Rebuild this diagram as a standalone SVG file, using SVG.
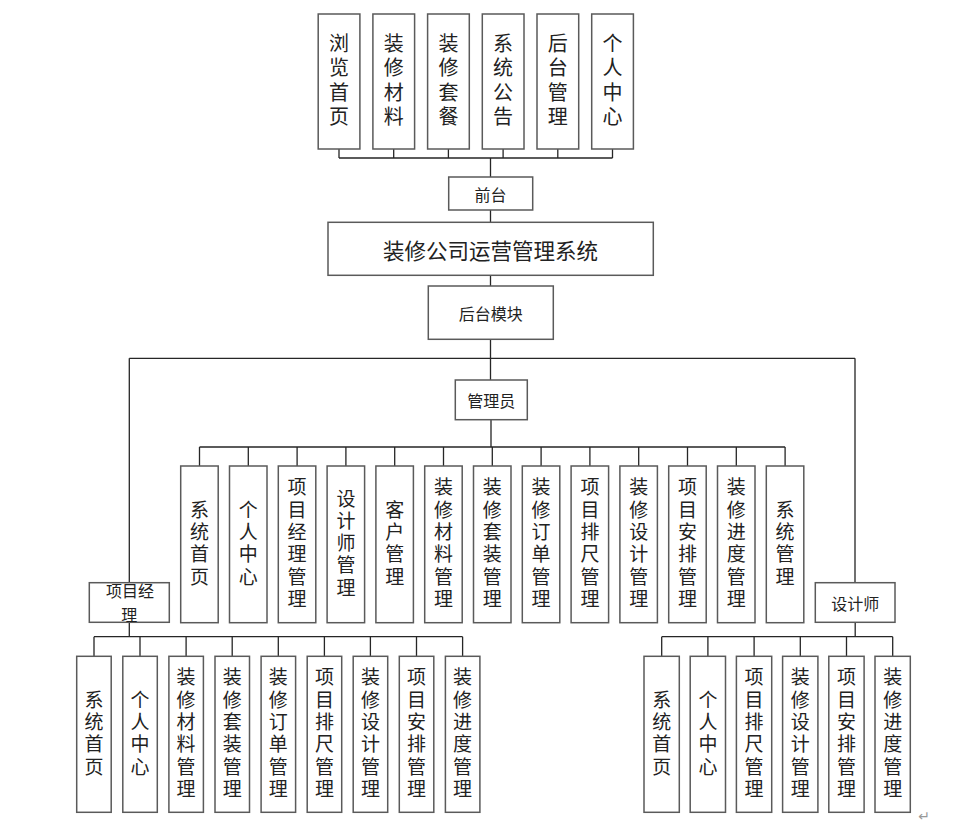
<svg xmlns="http://www.w3.org/2000/svg" width="977" height="824" viewBox="0 0 977 824">
<style>
.b{fill:#fff;stroke:#5a5a5a;stroke-width:1.5}
.c{fill:none;stroke:#262626;stroke-width:1.3}
text{font-family:"Noto Sans CJK SC","Noto Sans",sans-serif;fill:#222;text-anchor:middle;dominant-baseline:central}
.v{font-size:19px;writing-mode:vertical-rl;letter-spacing:3.3px}
.t{font-size:20px;writing-mode:vertical-rl;letter-spacing:4.5px}
.h{font-size:16px}
</style>
<rect width="977" height="824" fill="#fff"/>
<g id="connectors">
<path class="c" d="M339 149V158M393.7 149V158M448.4 149V158M503.1 149V158M557.8 149V158M612.5 149V158M339 158H612.5M490.5 158V177M490.5 210V222.3M490.5 275.3V286M490.5 339.3V380M129.3 358.3H855M129.3 358.3V582.7M855 358.3V582.7"/>
<path class="c" d="M491 420V447M199.5 447H785.1M199.5 447V466M248.3 447V466M297.1 447V466M345.9 447V466M394.7 447V466M443.5 447V466M492.3 447V466M541.1 447V466M589.9 447V466M638.7 447V466M687.5 447V466M736.3 447V466M785.1 447V466"/>
<path class="c" d="M129.3 622.3V636.7M94 636.7H462.6M94 636.7V656.3M140 636.7V656.3M186.1 636.7V656.3M232.2 636.7V656.3M278.3 636.7V656.3M324.4 636.7V656.3M370.4 636.7V656.3M416.5 636.7V656.3M462.6 636.7V656.3"/>
<path class="c" d="M855.2 622.3V636.7M661.7 636.7H892.7M661.7 636.7V656.3M707.9 636.7V656.3M754.1 636.7V656.3M800.3 636.7V656.3M846.5 636.7V656.3M892.7 636.7V656.3"/>
</g>
<g id="top-nodes">
<g id="n-browse"><rect class="b" x="318.2" y="14" width="41.7" height="135"/><text class="t" x="339" y="82">浏览首页</text></g>
<g id="n-material"><rect class="b" x="372.9" y="14" width="41.7" height="135"/><text class="t" x="393.7" y="82">装修材料</text></g>
<g id="n-package"><rect class="b" x="427.6" y="14" width="41.7" height="135"/><text class="t" x="448.4" y="82">装修套餐</text></g>
<g id="n-notice"><rect class="b" x="482.3" y="14" width="41.7" height="135"/><text class="t" x="503.1" y="82">系统公告</text></g>
<g id="n-backend"><rect class="b" x="537" y="14" width="41.7" height="135"/><text class="t" x="557.8" y="82">后台管理</text></g>
<g id="n-personal"><rect class="b" x="591.7" y="14" width="41.7" height="135"/><text class="t" x="612.5" y="82">个人中心</text></g>
</g>
<g id="n-front"><rect class="b" x="448.7" y="177" width="84" height="33"/><text class="h" x="490.5" y="193.5">前台</text></g>
<g id="n-system"><rect class="b" x="328" y="222.3" width="325.3" height="53"/><text x="490.5" y="249" style="font-size:21.5px">装修公司运营管理系统</text></g>
<g id="n-backmod"><rect class="b" x="428.3" y="286" width="125" height="53.3"/><text class="h" x="490.8" y="312.6">后台模块</text></g>
<g id="n-admin"><rect class="b" x="455.3" y="380" width="72" height="39.7"/><text class="h" x="491.3" y="400">管理员</text></g>
<g id="n-pm"><rect class="b" x="89.3" y="582.7" width="80" height="39.6"/><text class="h" x="130" y="590">项目经</text><text class="h" x="129.3" y="613.6">理</text></g>
<g id="n-designer"><rect class="b" x="815.3" y="582.7" width="79.7" height="39.6"/><text class="h" x="855.2" y="602.5">设计师</text></g>
<g id="admin-nodes">
<g id="a1"><rect class="b" x="180.7" y="466" width="37.5" height="156.7"/><text class="v" x="199.5" y="544.6">系统首页</text></g>
<g id="a2"><rect class="b" x="229.5" y="466" width="37.5" height="156.7"/><text class="v" x="248.3" y="544.6">个人中心</text></g>
<g id="a3"><rect class="b" x="278.3" y="466" width="37.5" height="156.7"/><text class="v" x="297.1" y="544.6">项目经理管理</text></g>
<g id="a4"><rect class="b" x="327.1" y="466" width="37.5" height="156.7"/><text class="v" x="345.9" y="544.6">设计师管理</text></g>
<g id="a5"><rect class="b" x="375.9" y="466" width="37.5" height="156.7"/><text class="v" x="394.7" y="544.6">客户管理</text></g>
<g id="a6"><rect class="b" x="424.7" y="466" width="37.5" height="156.7"/><text class="v" x="443.5" y="544.6">装修材料管理</text></g>
<g id="a7"><rect class="b" x="473.5" y="466" width="37.5" height="156.7"/><text class="v" x="492.3" y="544.6">装修套装管理</text></g>
<g id="a8"><rect class="b" x="522.3" y="466" width="37.5" height="156.7"/><text class="v" x="541.1" y="544.6">装修订单管理</text></g>
<g id="a9"><rect class="b" x="571.1" y="466" width="37.5" height="156.7"/><text class="v" x="589.9" y="544.6">项目排尺管理</text></g>
<g id="a10"><rect class="b" x="619.9" y="466" width="37.5" height="156.7"/><text class="v" x="638.7" y="544.6">装修设计管理</text></g>
<g id="a11"><rect class="b" x="668.7" y="466" width="37.5" height="156.7"/><text class="v" x="687.5" y="544.6">项目安排管理</text></g>
<g id="a12"><rect class="b" x="717.5" y="466" width="37.5" height="156.7"/><text class="v" x="736.3" y="544.6">装修进度管理</text></g>
<g id="a13"><rect class="b" x="766.3" y="466" width="37.5" height="156.7"/><text class="v" x="785.1" y="544.6">系统管理</text></g>
</g>
<g id="pm-nodes">
<g id="p1"><rect class="b" x="76.7" y="656.3" width="34.5" height="156"/><text class="v" x="94" y="734.6">系统首页</text></g>
<g id="p2"><rect class="b" x="122.8" y="656.3" width="34.5" height="156"/><text class="v" x="140" y="734.6">个人中心</text></g>
<g id="p3"><rect class="b" x="168.9" y="656.3" width="34.5" height="156"/><text class="v" x="186.1" y="734.6">装修材料管理</text></g>
<g id="p4"><rect class="b" x="215" y="656.3" width="34.5" height="156"/><text class="v" x="232.2" y="734.6">装修套装管理</text></g>
<g id="p5"><rect class="b" x="261.1" y="656.3" width="34.5" height="156"/><text class="v" x="278.3" y="734.6">装修订单管理</text></g>
<g id="p6"><rect class="b" x="307.2" y="656.3" width="34.5" height="156"/><text class="v" x="324.4" y="734.6">项目排尺管理</text></g>
<g id="p7"><rect class="b" x="353.2" y="656.3" width="34.5" height="156"/><text class="v" x="370.4" y="734.6">装修设计管理</text></g>
<g id="p8"><rect class="b" x="399.3" y="656.3" width="34.5" height="156"/><text class="v" x="416.5" y="734.6">项目安排管理</text></g>
<g id="p9"><rect class="b" x="445.4" y="656.3" width="34.5" height="156"/><text class="v" x="462.6" y="734.6">装修进度管理</text></g>
</g>
<g id="designer-nodes">
<g id="d1"><rect class="b" x="644" y="656.3" width="35.3" height="156"/><text class="v" x="661.7" y="734.6">系统首页</text></g>
<g id="d2"><rect class="b" x="690.2" y="656.3" width="35.3" height="156"/><text class="v" x="707.9" y="734.6">个人中心</text></g>
<g id="d3"><rect class="b" x="736.4" y="656.3" width="35.3" height="156"/><text class="v" x="754.1" y="734.6">项目排尺管理</text></g>
<g id="d4"><rect class="b" x="782.6" y="656.3" width="35.3" height="156"/><text class="v" x="800.3" y="734.6">装修设计管理</text></g>
<g id="d5"><rect class="b" x="828.8" y="656.3" width="35.3" height="156"/><text class="v" x="846.5" y="734.6">项目安排管理</text></g>
<g id="d6"><rect class="b" x="875" y="656.3" width="35.3" height="156"/><text class="v" x="892.7" y="734.6">装修进度管理</text></g>
</g>
<text x="924" y="816" style="font-size:14px;fill:#999;font-family:'DejaVu Sans',sans-serif">↵</text>
</svg>
